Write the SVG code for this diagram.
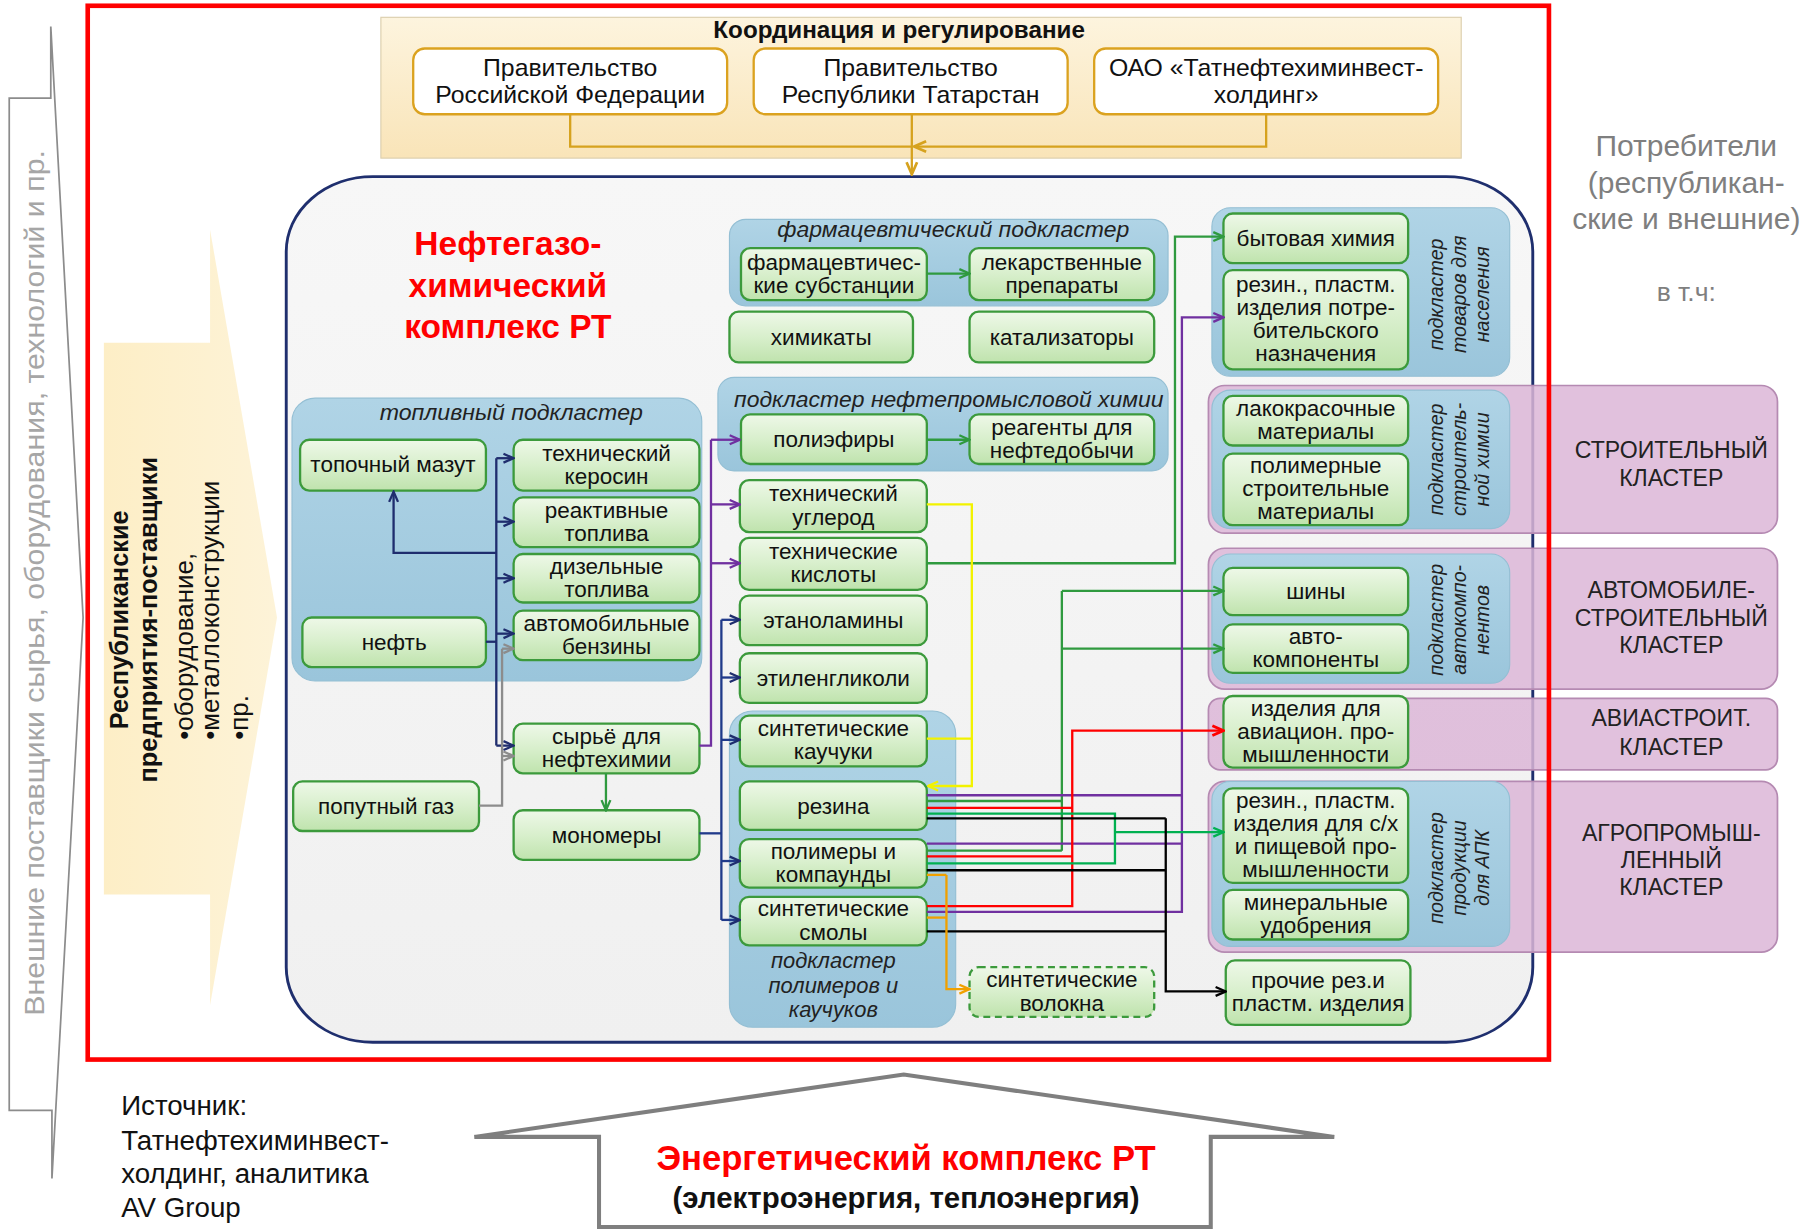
<svg xmlns="http://www.w3.org/2000/svg" width="1804" height="1229" viewBox="0 0 1804 1229">
<defs>
<linearGradient id="gGreen" x1="0" y1="0" x2="0" y2="1"><stop offset="0" stop-color="#eef8e8"/><stop offset="0.5" stop-color="#d8efcc"/><stop offset="1" stop-color="#bfe3ad"/></linearGradient>
<linearGradient id="gBlue" x1="0" y1="0" x2="0" y2="1"><stop offset="0" stop-color="#b0d4e6"/><stop offset="1" stop-color="#9ac5db"/></linearGradient>
<linearGradient id="gCoord" x1="0" y1="0" x2="0" y2="1"><stop offset="0" stop-color="#fdf4de"/><stop offset="1" stop-color="#f9e4b8"/></linearGradient>
<linearGradient id="gYel" x1="0" y1="0" x2="1" y2="0"><stop offset="0" stop-color="#fdeec6"/><stop offset="1" stop-color="#fdf3d8"/></linearGradient>
<linearGradient id="gMain" x1="0" y1="0" x2="0" y2="1"><stop offset="0" stop-color="#f7f7f7"/><stop offset="1" stop-color="#f0f0f0"/></linearGradient>
<marker id="a-navy" viewBox="0 0 10 10" refX="9" refY="5" markerWidth="11" markerHeight="11" orient="auto" markerUnits="userSpaceOnUse"><path d="M1,1.5 L9,5 L1,8.5" fill="none" stroke="#1f2d6e" stroke-width="1.8"/></marker>
<marker id="a-gray" viewBox="0 0 10 10" refX="9" refY="5" markerWidth="11" markerHeight="11" orient="auto" markerUnits="userSpaceOnUse"><path d="M1,1.5 L9,5 L1,8.5" fill="none" stroke="#8c8c8c" stroke-width="1.8"/></marker>
<marker id="a-purple" viewBox="0 0 10 10" refX="9" refY="5" markerWidth="11" markerHeight="11" orient="auto" markerUnits="userSpaceOnUse"><path d="M1,1.5 L9,5 L1,8.5" fill="none" stroke="#7030a0" stroke-width="1.8"/></marker>
<marker id="a-green" viewBox="0 0 10 10" refX="9" refY="5" markerWidth="11" markerHeight="11" orient="auto" markerUnits="userSpaceOnUse"><path d="M1,1.5 L9,5 L1,8.5" fill="none" stroke="#2f9a3f" stroke-width="1.8"/></marker>
<marker id="a-bgreen" viewBox="0 0 10 10" refX="9" refY="5" markerWidth="11" markerHeight="11" orient="auto" markerUnits="userSpaceOnUse"><path d="M1,1.5 L9,5 L1,8.5" fill="none" stroke="#00b050" stroke-width="1.8"/></marker>
<marker id="a-red" viewBox="0 0 10 10" refX="9" refY="5" markerWidth="12" markerHeight="12" orient="auto" markerUnits="userSpaceOnUse"><path d="M1,1.5 L9,5 L1,8.5" fill="none" stroke="#ff0000" stroke-width="2"/></marker>
<marker id="a-black" viewBox="0 0 10 10" refX="9" refY="5" markerWidth="11" markerHeight="11" orient="auto" markerUnits="userSpaceOnUse"><path d="M1,1.5 L9,5 L1,8.5" fill="none" stroke="#000000" stroke-width="1.8"/></marker>
<marker id="a-orange" viewBox="0 0 10 10" refX="9" refY="5" markerWidth="11" markerHeight="11" orient="auto" markerUnits="userSpaceOnUse"><path d="M1,1.5 L9,5 L1,8.5" fill="none" stroke="#f0a000" stroke-width="1.8"/></marker>
<marker id="a-yellow" viewBox="0 0 10 10" refX="9" refY="5" markerWidth="11" markerHeight="11" orient="auto" markerUnits="userSpaceOnUse"><path d="M1,1.5 L9,5 L1,8.5" fill="none" stroke="#f2f200" stroke-width="1.8"/></marker>
<marker id="a-gold" viewBox="0 0 10 10" refX="9" refY="5" markerWidth="13" markerHeight="13" orient="auto" markerUnits="userSpaceOnUse"><path d="M1,1.5 L9,5 L1,8.5" fill="none" stroke="#d6a21e" stroke-width="1.8"/></marker>
<style>
text{font-family:"Liberation Sans",Arial,sans-serif;}
.gb{fill:url(#gGreen);stroke:#3c9a3c;stroke-width:2;}
.gbd{fill:url(#gGreen);stroke:#3c9a3c;stroke-width:2;stroke-dasharray:6 4;}
.bl{fill:url(#gBlue);stroke:#94bfd4;stroke-width:1;}
.pk{fill:#dcb6d7;fill-opacity:0.85;stroke:#b58ab2;stroke-width:1.5;}
.t{font-size:19.5px;fill:#111;text-anchor:middle;}
.it{font-size:19px;font-style:italic;fill:#222;text-anchor:middle;}
.vt{font-size:17px;font-style:italic;fill:#222;text-anchor:middle;}
.cl{font-size:20px;fill:#222;text-anchor:middle;}
.co{fill:#fff;stroke:#dba21f;stroke-width:2;}
.ct{font-size:21.5px;fill:#111;text-anchor:middle;}
.ln{fill:none;stroke-width:2;}
</style>
</defs>
<rect x="0" y="0" width="1804" height="1229" fill="#ffffff"/>
<g transform="scale(1.1542)">

<g id="external-suppliers">
<polygon points="8,85 44,85 44,23 72,535 45,1021 45,962 8,962" fill="#ffffff" stroke="#8c8c8c" stroke-width="1.5"/>
<text transform="translate(30,505) rotate(-90)" text-anchor="middle" y="8" font-size="24" fill="#a6a6a6" textLength="750" lengthAdjust="spacingAndGlyphs">Внешние поставщики сырья, оборудования, технологий и пр.</text>
</g>

<g id="republic-suppliers">
<polygon points="90,297 182,297 182,199 240,535 182,871 182,775 90,775" fill="url(#gYel)"/>
<text transform="translate(118,537) rotate(-90)" font-size="22" font-weight="bold" fill="#111" text-anchor="middle"><tspan x="0" y="-7">Республиканские</tspan><tspan x="0" y="18">предприятия-поставщики</tspan></text>
<text transform="translate(118,537) rotate(-90)" font-size="22.5" fill="#111"><tspan x="-104" y="49">•оборудование,</tspan><tspan x="-104" y="72">•металлоконструкции</tspan><tspan x="-104" y="97">•пр.</tspan></text>
</g>

<g id="coordination">
<rect x="330" y="15" width="936" height="122" fill="url(#gCoord)" stroke="#dccfae" stroke-width="1"/>
<text x="779" y="33" font-size="21" font-weight="bold" fill="#111" text-anchor="middle">Координация и регулирование</text>
</g>
<g id="gov-rf"><rect class="co" x="358" y="42" width="272" height="57" rx="10"/><text class="ct" x="494" y="66">Правительство<tspan x="494" y="89">Российской Федерации</tspan></text></g>
<g id="gov-rt"><rect class="co" x="653" y="42" width="272" height="57" rx="10"/><text class="ct" x="789" y="66">Правительство<tspan x="789" y="89">Республики Татарстан</tspan></text></g>
<g id="holding"><rect class="co" x="948" y="42" width="298" height="57" rx="10"/><text class="ct" x="1097" y="66">ОАО «Татнефтехиминвест-<tspan x="1097" y="89">холдинг»</tspan></text></g>

<g id="complex">
<rect x="248" y="153" width="1080" height="750" rx="75" ry="65" fill="url(#gMain)" stroke="#1f2f6e" stroke-width="2.5"/>
<text x="440" y="221" font-size="29" font-weight="bold" fill="#ff0000" text-anchor="middle">Нефтегазо-<tspan x="440" y="257">химический</tspan><tspan x="440" y="293">комплекс РТ</tspan></text>
</g>

<g id="cluster-construction"><rect class="pk" x="1047" y="334" width="493" height="128" rx="14"/><text class="cl" x="1448" y="397">СТРОИТЕЛЬНЫЙ<tspan x="1448" y="421">КЛАСТЕР</tspan></text></g>
<g id="cluster-auto"><rect class="pk" x="1047" y="475" width="493" height="122" rx="14"/><text class="cl" x="1448" y="518">АВТОМОБИЛЕ-<tspan x="1448" y="542">СТРОИТЕЛЬНЫЙ</tspan><tspan x="1448" y="566">КЛАСТЕР</tspan></text></g>
<g id="cluster-avia"><rect class="pk" x="1047" y="605" width="493" height="62" rx="10"/><text class="cl" x="1448" y="629">АВИАСТРОИТ.<tspan x="1448" y="654">КЛАСТЕР</tspan></text></g>
<g id="cluster-agro"><rect class="pk" x="1047" y="677" width="493" height="148" rx="14"/><text class="cl" x="1448" y="729">АГРОПРОМЫШ-<tspan x="1448" y="752">ЛЕННЫЙ</tspan><tspan x="1448" y="775">КЛАСТЕР</tspan></text></g>

<g id="sub-fuel"><rect class="bl" x="253" y="345" width="355" height="245" rx="20"/><text class="it" x="443" y="364" textLength="228" lengthAdjust="spacingAndGlyphs">топливный подкластер</text></g>
<g id="sub-pharma"><rect class="bl" x="632" y="190" width="380" height="75" rx="14"/><text class="it" x="826" y="205" textLength="305" lengthAdjust="spacingAndGlyphs">фармацевтический подкластер</text></g>
<g id="sub-oilfield"><rect class="bl" x="622" y="327" width="390" height="81" rx="14"/><text class="it" x="822" y="353" textLength="372" lengthAdjust="spacingAndGlyphs">подкластер нефтепромысловой химии</text></g>
<g id="sub-polymer"><rect class="bl" x="632" y="616" width="196" height="274" rx="20"/><text class="it" x="722" y="839" font-size="20">подкластер<tspan x="722" y="860">полимеров и</tspan><tspan x="722" y="881">каучуков</tspan></text></g>
<g id="sub-population"><rect class="bl" x="1050" y="180" width="258" height="146" rx="16"/><text class="vt" transform="translate(1265,255) rotate(-90)"><tspan x="0" y="-15">подкластер</tspan><tspan x="0" y="5">товаров для</tspan><tspan x="0" y="25">населения</tspan></text></g>
<g id="sub-construction"><rect class="bl" x="1050" y="338" width="258" height="120" rx="16"/><text class="vt" transform="translate(1265,398) rotate(-90)"><tspan x="0" y="-15">подкластер</tspan><tspan x="0" y="5">строитель-</tspan><tspan x="0" y="25">ной химии</tspan></text></g>
<g id="sub-auto"><rect class="bl" x="1050" y="480" width="258" height="112" rx="16"/><text class="vt" transform="translate(1265,537) rotate(-90)"><tspan x="0" y="-15">подкластер</tspan><tspan x="0" y="5">автокомпо-</tspan><tspan x="0" y="25">нентов</tspan></text></g>
<g id="sub-agro"><rect class="bl" x="1050" y="677" width="258" height="143" rx="16"/><text class="vt" transform="translate(1265,752) rotate(-90)"><tspan x="0" y="-15">подкластер</tspan><tspan x="0" y="5">продукции</tspan><tspan x="0" y="25">для АПК</tspan></text></g>

<g id="n-mazut"><rect class="gb" x="260" y="381" width="161" height="44" rx="8"/><text class="t" x="340.5" y="409">топочный мазут</text></g>
<g id="n-neft"><rect class="gb" x="262" y="535" width="159" height="43" rx="8"/><text class="t" x="341.5" y="563">нефть</text></g>
<g id="n-kerosin"><rect class="gb" x="445" y="381" width="161" height="44" rx="8"/><text class="t" x="525.5" y="399">технический<tspan x="525.5" y="419">керосин</tspan></text></g>
<g id="n-reaktiv"><rect class="gb" x="445" y="431" width="161" height="43" rx="8"/><text class="t" x="525.5" y="448.5">реактивные<tspan x="525.5" y="468.5">топлива</tspan></text></g>
<g id="n-dizel"><rect class="gb" x="445" y="480" width="161" height="42" rx="8"/><text class="t" x="525.5" y="497">дизельные<tspan x="525.5" y="517">топлива</tspan></text></g>
<g id="n-benzin"><rect class="gb" x="445" y="529" width="161" height="43" rx="8"/><text class="t" x="525.5" y="546.5">автомобильные<tspan x="525.5" y="566.5">бензины</tspan></text></g>
<g id="n-syrye"><rect class="gb" x="445" y="627" width="161" height="43" rx="8"/><text class="t" x="525.5" y="644.5">сырьё для<tspan x="525.5" y="664.5">нефтехимии</tspan></text></g>
<g id="n-gas"><rect class="gb" x="254" y="677" width="161" height="43" rx="8"/><text class="t" x="334.5" y="705">попутный  газ</text></g>
<g id="n-monomer"><rect class="gb" x="445" y="702" width="161" height="43" rx="8"/><text class="t" x="525.5" y="730">мономеры</text></g>

<g id="n-pharmsub"><rect class="gb" x="642" y="215" width="161" height="45" rx="8"/><text class="t" x="722.5" y="233.5">фармацевтичес-<tspan x="722.5" y="253.5">кие субстанции</tspan></text></g>
<g id="n-drugs"><rect class="gb" x="840" y="215" width="160" height="45" rx="8"/><text class="t" x="920" y="233.5">лекарственные<tspan x="920" y="253.5">препараты</tspan></text></g>
<g id="n-chem"><rect class="gb" x="632" y="270" width="159" height="44" rx="8"/><text class="t" x="711.5" y="299">химикаты</text></g>
<g id="n-catal"><rect class="gb" x="840" y="270" width="160" height="44" rx="8"/><text class="t" x="920" y="299">катализаторы</text></g>
<g id="n-polyeth"><rect class="gb" x="642" y="359" width="161" height="43" rx="8"/><text class="t" x="722.5" y="387">полиэфиры</text></g>
<g id="n-reagent"><rect class="gb" x="840" y="359" width="160" height="43" rx="8"/><text class="t" x="920" y="376.5">реагенты для<tspan x="920" y="396.5">нефтедобычи</tspan></text></g>
<g id="n-carbon"><rect class="gb" x="641" y="416" width="162" height="45" rx="8"/><text class="t" x="722" y="434.5">технический<tspan x="722" y="454.5">углерод</tspan></text></g>
<g id="n-acids"><rect class="gb" x="641" y="466" width="162" height="45" rx="8"/><text class="t" x="722" y="484.5">технические<tspan x="722" y="504.5">кислоты</tspan></text></g>
<g id="n-ethanol"><rect class="gb" x="641" y="516" width="162" height="43" rx="8"/><text class="t" x="722" y="544">этаноламины</text></g>
<g id="n-glycol"><rect class="gb" x="641" y="566" width="162" height="43" rx="8"/><text class="t" x="722" y="594">этиленгликоли</text></g>
<g id="n-rubber"><rect class="gb" x="641" y="620" width="162" height="44" rx="8"/><text class="t" x="722" y="638">синтетические<tspan x="722" y="658">каучуки</tspan></text></g>
<g id="n-rezina"><rect class="gb" x="641" y="677" width="162" height="42" rx="8"/><text class="t" x="722" y="705">резина</text></g>
<g id="n-polymers"><rect class="gb" x="641" y="727" width="162" height="42" rx="8"/><text class="t" x="722" y="744">полимеры  и<tspan x="722" y="764">компаунды</tspan></text></g>
<g id="n-resins"><rect class="gb" x="641" y="777" width="162" height="42" rx="8"/><text class="t" x="722" y="794">синтетические<tspan x="722" y="814">смолы</tspan></text></g>
<g id="n-fibers"><rect class="gbd" x="840" y="838" width="160" height="43" rx="8"/><text class="t" x="920" y="855.5">синтетические<tspan x="920" y="875.5">волокна</tspan></text></g>

<g id="n-household"><rect class="gb" x="1060" y="185" width="160" height="43" rx="8"/><text class="t" x="1140" y="213">бытовая химия</text></g>
<g id="n-consumer"><rect class="gb" x="1060" y="234" width="160" height="86" rx="8"/><text class="t" x="1140" y="253">резин., пластм.<tspan x="1140" y="273">изделия потре-</tspan><tspan x="1140" y="293">бительского</tspan><tspan x="1140" y="313">назначения</tspan></text></g>
<g id="n-paint"><rect class="gb" x="1060" y="343" width="160" height="43" rx="8"/><text class="t" x="1140" y="360.5">лакокрасочные<tspan x="1140" y="380.5">материалы</tspan></text></g>
<g id="n-buildmat"><rect class="gb" x="1060" y="393" width="160" height="62" rx="8"/><text class="t" x="1140" y="410">полимерные<tspan x="1140" y="430">строительные</tspan><tspan x="1140" y="450">материалы</tspan></text></g>
<g id="n-tires"><rect class="gb" x="1060" y="492" width="160" height="41" rx="8"/><text class="t" x="1140" y="519">шины</text></g>
<g id="n-autocomp"><rect class="gb" x="1060" y="541" width="160" height="42" rx="8"/><text class="t" x="1140" y="558">авто-<tspan x="1140" y="578">компоненты</tspan></text></g>
<g id="n-avia"><rect class="gb" x="1060" y="603" width="160" height="62" rx="8"/><text class="t" x="1140" y="620">изделия для<tspan x="1140" y="640">авиацион. про-</tspan><tspan x="1140" y="660">мышленности</tspan></text></g>
<g id="n-agroprod"><rect class="gb" x="1060" y="683" width="160" height="82" rx="8"/><text class="t" x="1140" y="700">резин., пластм.<tspan x="1140" y="720">изделия для с/х</tspan><tspan x="1140" y="740">и пищевой про-</tspan><tspan x="1140" y="760">мышленности</tspan></text></g>
<g id="n-fertil"><rect class="gb" x="1060" y="771" width="160" height="43" rx="8"/><text class="t" x="1140" y="788.5">минеральные<tspan x="1140" y="808.5">удобрения</tspan></text></g>
<g id="n-other"><rect class="gb" x="1062" y="832" width="160" height="56" rx="8"/><text class="t" x="1142" y="856">прочие рез.и<tspan x="1142" y="876">пластм.  изделия</tspan></text></g>

<g id="connectors">
<g stroke="#d6a21e" class="ln" stroke-width="2.5">
<path d="M494,99 V127 H790"/>
<path d="M1097,99 V127 H792" marker-end="url(#a-gold)"/>
<path d="M790,99 V151" marker-end="url(#a-gold)"/>
</g>
<g stroke="#1f2d6e" class="ln">
<path d="M421,556 H430"/>
<path d="M430,397 V646"/>
<path d="M430,397 H445" marker-end="url(#a-navy)"/>
<path d="M430,452 H445" marker-end="url(#a-navy)"/>
<path d="M430,501 H445" marker-end="url(#a-navy)"/>
<path d="M430,549 H445" marker-end="url(#a-navy)"/>
<path d="M430,646 H445" marker-end="url(#a-navy)"/>
<path d="M430,479 H341 V426" marker-end="url(#a-navy)"/>
</g>
<g stroke="#8c8c8c" class="ln">
<path d="M415,698 H435 V562"/>
<path d="M435,562 H445" marker-end="url(#a-gray)"/>
<path d="M435,655 H445" marker-end="url(#a-gray)"/>
</g>
<g stroke="#7030a0" class="ln">
<path d="M606,646 H616 V381"/>
<path d="M616,381 H641" marker-end="url(#a-purple)"/>
<path d="M616,437 H641" marker-end="url(#a-purple)"/>
<path d="M616,488 H641" marker-end="url(#a-purple)"/>
</g>
<g stroke="#203a8a" class="ln">
<path d="M606,722 H625"/>
<path d="M625,537 V797"/>
<path d="M625,537 H641" marker-end="url(#a-navy)"/>
<path d="M625,587 H641" marker-end="url(#a-navy)"/>
<path d="M625,641 H641" marker-end="url(#a-navy)"/>
<path d="M625,746 H641" marker-end="url(#a-navy)"/>
<path d="M625,797 H641" marker-end="url(#a-navy)"/>
</g>
<g stroke="#2f9a3f" class="ln">
<path d="M803,237 H840" marker-end="url(#a-green)"/>
<path d="M803,381 H840" marker-end="url(#a-green)"/>
<path d="M525,670 V702" marker-end="url(#a-green)"/>
<path d="M803,488 H1018 V205 H1060" marker-end="url(#a-green)"/>
<path d="M803,694 H920"/>
<path d="M803,737 H920"/>
<path d="M920,737 V512"/>
<path d="M920,512 H1060" marker-end="url(#a-green)"/>
<path d="M920,562 H1060" marker-end="url(#a-green)"/>
</g>
<g stroke="#f2f200" class="ln">
<path d="M803,437 H842 V681 H804" marker-end="url(#a-yellow)"/>
<path d="M803,640 H842"/>
</g>
<g stroke="#7030a0" class="ln">
<path d="M803,689 H1024"/>
<path d="M803,731 H1024"/>
<path d="M803,790 H1024 V275 H1060" marker-end="url(#a-purple)"/>
</g>
<g stroke="#ff0000" class="ln" stroke-width="2.2">
<path d="M803,700 H929"/>
<path d="M803,742 H929"/>
<path d="M803,785 H929 V633 H1060" marker-end="url(#a-red)"/>
</g>
<g stroke="#00b050" class="ln">
<path d="M803,705 H966 V748 H803"/>
<path d="M966,721 H1060" marker-end="url(#a-bgreen)"/>
</g>
<g stroke="#000000" class="ln">
<path d="M803,709 H1010"/>
<path d="M803,754 H1010"/>
<path d="M803,807 H1010"/>
<path d="M1010,709 V859 H1062" marker-end="url(#a-black)"/>
</g>
<g stroke="#f0a000" class="ln">
<path d="M803,758 H820"/>
<path d="M803,795 H820"/>
<path d="M820,758 V857 H840" marker-end="url(#a-orange)"/>
</g>
</g>

<rect id="frame" x="76" y="5" width="1266" height="913" fill="none" stroke="#ff0000" stroke-width="4"/>

<g id="consumers">
<text x="1461" y="135" font-size="26" fill="#7f7f7f" text-anchor="middle">Потребители<tspan x="1461" y="167">(республикан-</tspan><tspan x="1461" y="198">ские и внешние)</tspan></text>
<text x="1461" y="261" font-size="23" fill="#7f7f7f" text-anchor="middle">в т.ч:</text>
</g>

<g id="source">
<text x="105" y="966" font-size="24" fill="#111">Источник:<tspan x="105" y="996">Татнефтехиминвест-</tspan><tspan x="105" y="1025">холдинг, аналитика</tspan><tspan x="105" y="1054">AV Group</tspan></text>
</g>

<g id="energy">
<polygon points="411,985 783,931 1156,985 1049,985 1049,1063 519,1063 519,985" fill="#ffffff" stroke="#7f7f7f" stroke-width="3.5" stroke-linejoin="miter"/>
<text x="785" y="1014" font-size="30" font-weight="bold" fill="#ff0000" text-anchor="middle">Энергетический комплекс РТ</text>
<text x="785" y="1047" font-size="25.5" font-weight="bold" fill="#111" text-anchor="middle">(электроэнергия, теплоэнергия)</text>
</g>
</g>
</svg>
